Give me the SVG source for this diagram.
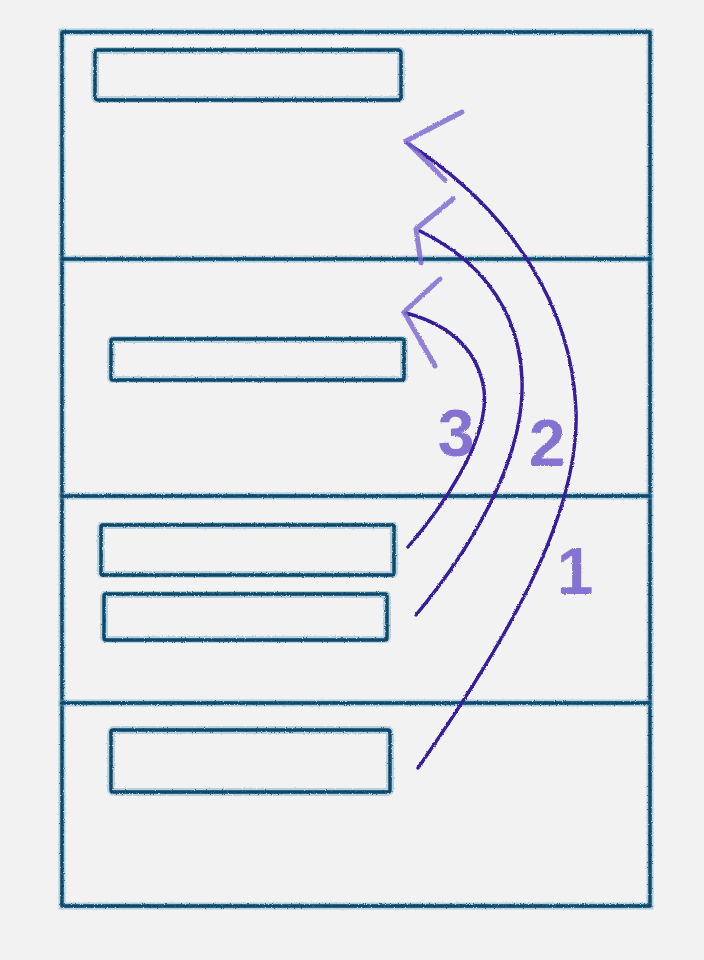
<svg xmlns="http://www.w3.org/2000/svg" width="704" height="960" viewBox="0 0 704 960">
  <style>
    .frame { fill: none; stroke: #08466b; stroke-width: 3.4; stroke-linecap: round; stroke-linejoin: round; }
    .fuzz { fill: none; stroke: #5f9fbc; stroke-width: 7; stroke-opacity: 0.45; stroke-linecap: round; }
    .box { fill: none; stroke: #08466b; stroke-width: 3.4; stroke-linejoin: round; }
    .boxfuzz { fill: none; stroke: #5f9fbc; stroke-width: 8; stroke-opacity: 0.4; }
    .arc { fill: none; stroke: #371b9a; stroke-width: 3.4; stroke-linecap: round; }
    .head { fill: none; stroke: #7a62d0; stroke-width: 5; stroke-linecap: round; stroke-linejoin: round; stroke-opacity: 0.8; }
    .num { font-family: "Liberation Sans", "DejaVu Sans", sans-serif; font-size: 66px; font-weight: bold; fill: #6a52c8; fill-opacity: 0.8; text-anchor: middle; }
  </style>
  <defs>
    <filter id="rough" x="-5%" y="-5%" width="110%" height="110%">
      <feTurbulence type="fractalNoise" baseFrequency="0.9" numOctaves="2" seed="3" result="n"/>
      <feDisplacementMap in="SourceGraphic" in2="n" scale="2.5" xChannelSelector="R" yChannelSelector="G"/>
    </filter>
  </defs>
  <rect x="0" y="0" width="704" height="960" fill="#f2f2f2"/>

  <g id="frame" filter="url(#rough)">
    <rect class="fuzz" x="62" y="32" width="588" height="874"/>
    <rect class="frame" x="62" y="32" width="588" height="874"/>
  </g>
  <g id="lane-dividers" filter="url(#rough)">
    <line class="fuzz" x1="62" y1="259" x2="650" y2="259"/>
    <line class="frame" x1="62" y1="259" x2="650" y2="259"/>
    <line class="fuzz" x1="62" y1="496" x2="650" y2="496"/>
    <line class="frame" x1="62" y1="496" x2="650" y2="496"/>
    <line class="fuzz" x1="62" y1="703" x2="650" y2="703"/>
    <line class="frame" x1="62" y1="703" x2="650" y2="703"/>
  </g>

  <g id="box1" filter="url(#rough)">
    <rect class="boxfuzz" x="95" y="50" width="306" height="50" rx="4"/>
    <rect class="box" x="95" y="50" width="306" height="50" rx="3"/>
  </g>
  <g id="box2" filter="url(#rough)">
    <rect class="boxfuzz" x="111" y="339" width="293" height="41" rx="3"/>
    <rect class="box" x="111" y="339" width="293" height="41" rx="2"/>
  </g>
  <g id="box3" filter="url(#rough)">
    <rect class="boxfuzz" x="101" y="525" width="293" height="50" rx="3"/>
    <rect class="box" x="101" y="525" width="293" height="50" rx="2"/>
  </g>
  <g id="box4" filter="url(#rough)">
    <rect class="boxfuzz" x="104" y="594" width="283" height="46" rx="3"/>
    <rect class="box" x="104" y="594" width="283" height="46" rx="2"/>
  </g>
  <g id="box5" filter="url(#rough)">
    <rect class="boxfuzz" x="111" y="730" width="279" height="62" rx="3"/>
    <rect class="box" x="111" y="730" width="279" height="62" rx="2"/>
  </g>

  <g id="connectors" filter="url(#rough)">
    <path class="arc" d="M418,768 C500,650 580,520 576,410 C572,310 515,212 407,143"/>
    <polyline class="head" points="462,112 406,141 445,180"/>
    <path class="arc" d="M416,615 C470,550 525,460 522,380 C520,320 490,265 420,231"/>
    <polyline class="head" points="453,199 416,229 421,263"/>
    <path class="arc" d="M408,547 C440,510 490,440 484,390 C478,350 450,325 406,313"/>
    <polyline class="head" points="440,279 404,312 435,366"/>
  </g>

  <g id="labels" filter="url(#rough)">
    <text class="num" x="456" y="456">3</text>
    <text class="num" x="547" y="466">2</text>
    <text class="num" x="575" y="594">1</text>
  </g>
</svg>
